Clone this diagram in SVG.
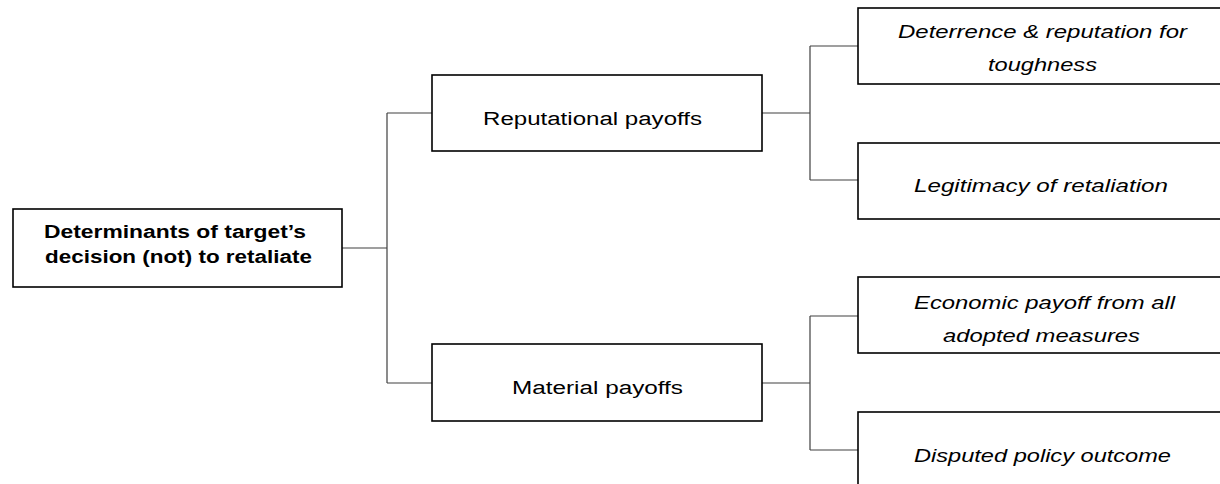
<svg xmlns="http://www.w3.org/2000/svg" width="1220" height="484" viewBox="0 0 1220 484">
<style>
.box{fill:#fff;stroke:#000;stroke-width:1.6}
.con{fill:none;stroke:#404040;stroke-width:1.2}
text{font-family:"Liberation Sans",Arial,sans-serif;font-size:18px;fill:#000}
.b{font-weight:bold}
.i{font-style:italic}
</style>
<rect width="1220" height="484" fill="#fff"/>
<g id="connectors">
<path class="con" d="M342,248 H387 M387,113 V383 M387,113 H432 M387,383 H432"/>
<path class="con" d="M762,113 H810 M810,46 V180 M810,46 H858 M810,180 H858"/>
<path class="con" d="M762,383 H810 M810,316 V450 M810,316 H858 M810,450 H858"/>
</g>
<g id="root">
<rect class="box" x="13" y="209" width="329" height="78"/>
<text class="b" x="44" y="238" textLength="262" lengthAdjust="spacingAndGlyphs">Determinants of target’s</text>
<text class="b" x="45" y="263" textLength="267" lengthAdjust="spacingAndGlyphs">decision (not) to retaliate</text>
</g>
<g id="reputational">
<rect class="box" x="432" y="75" width="330" height="76"/>
<text x="483" y="125" textLength="219" lengthAdjust="spacingAndGlyphs">Reputational payoffs</text>
</g>
<g id="material">
<rect class="box" x="432" y="344" width="330" height="77"/>
<text x="512" y="394" textLength="171" lengthAdjust="spacingAndGlyphs">Material payoffs</text>
</g>
<g id="deterrence">
<rect class="box" x="858" y="8" width="370" height="76"/>
<text class="i" x="898" y="38" textLength="289" lengthAdjust="spacingAndGlyphs">Deterrence &amp; reputation for</text>
<text class="i" x="988" y="71" textLength="109" lengthAdjust="spacingAndGlyphs">toughness</text>
</g>
<g id="legitimacy">
<rect class="box" x="858" y="143" width="370" height="76"/>
<text class="i" x="914" y="192" textLength="254" lengthAdjust="spacingAndGlyphs">Legitimacy of retaliation</text>
</g>
<g id="economic">
<rect class="box" x="858" y="277" width="370" height="76"/>
<text class="i" x="914" y="309" textLength="261" lengthAdjust="spacingAndGlyphs">Economic payoff from all</text>
<text class="i" x="943" y="342" textLength="197" lengthAdjust="spacingAndGlyphs">adopted measures</text>
</g>
<g id="disputed">
<rect class="box" x="858" y="412" width="370" height="80"/>
<text class="i" x="914" y="462" textLength="257" lengthAdjust="spacingAndGlyphs">Disputed policy outcome</text>
</g>
</svg>
